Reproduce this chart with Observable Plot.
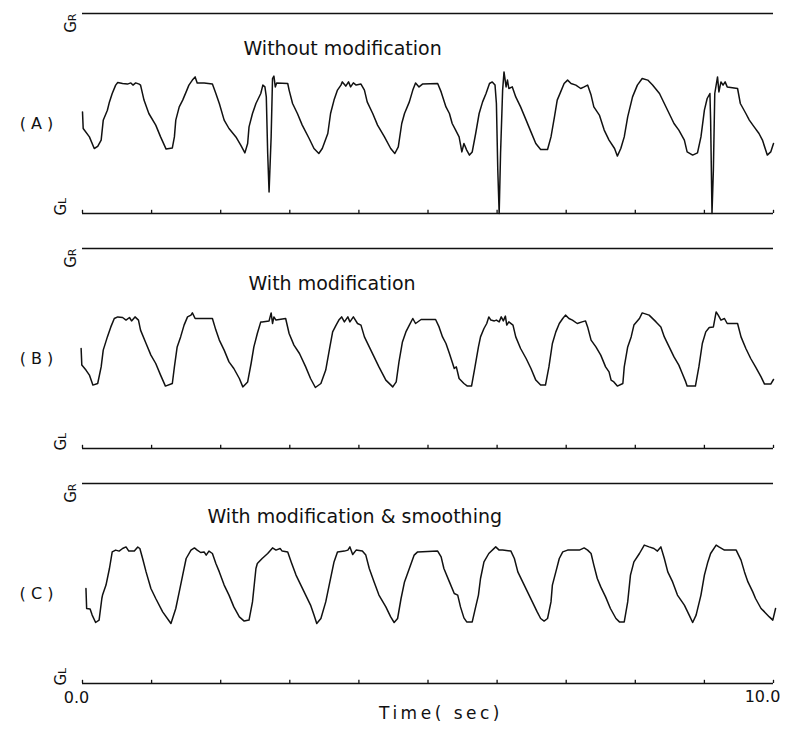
<!DOCTYPE html>
<html><head><meta charset="utf-8">
<script src="https://cdn.jsdelivr.net/npm/d3@7"></script>
<script src="https://cdn.jsdelivr.net/npm/@observablehq/plot@0.6"></script>
<style>
body{margin:0;background:#fff;}
#chart{width:791px;height:729px;}
#chart svg{display:block;}
</style></head><body><div id="chart"></div>
<script>
// ---- data ----
const panelLabels = ["( A )", "( B )", "( C )"];
const panelTitles = ["Without modification", "With modification", "With modification & smoothing"];
const railTop = "GR";
const railBottom = "GL";
const tickSeconds = [0, 1, 2, 3, 4, 5, 6, 7, 8, 9, 10];
const axisEnds = [0, 10];
const axisTitle = "Time( sec)";

// Panel A: without modification (time in sec, level: GL = 0, GR = 100)
const tA = [0.00,0.01,0.10,0.17,0.22,0.27,0.30,0.36,0.39,0.43,0.48,0.51,0.58,0.65,0.70,0.73,0.77,0.82,0.84,0.89,0.96,1.06,1.13,1.21,1.30,1.33,1.35,1.40,1.45,1.50,1.54,1.59,1.63,1.66,1.76,1.88,1.93,1.98,2.05,2.12,2.22,2.29,2.35,2.39,2.41,2.46,2.51,2.58,2.61,2.64,2.66,2.68,2.70,2.73,2.75,2.77,2.79,2.81,2.97,2.99,3.04,3.11,3.18,3.28,3.35,3.42,3.47,3.55,3.59,3.64,3.69,3.74,3.76,3.81,3.85,3.88,3.92,3.96,4.03,4.08,4.12,4.20,4.27,4.37,4.46,4.52,4.57,4.62,4.66,4.73,4.78,4.82,4.87,4.92,
  5.14,5.19,5.26,5.31,5.35,5.40,5.45,5.49,5.52,5.56,5.60,5.64,5.69,5.74,5.79,5.84,5.89,5.93,5.97,5.99,6.01,6.03,6.05,6.08,6.10,6.13,6.15,6.17,6.22,6.27,6.34,6.42,6.49,6.56,6.63,6.73,6.78,6.83,6.87,6.92,6.97,7.02,7.07,7.14,7.21,7.26,7.31,7.36,7.40,7.48,7.55,7.62,7.70,7.74,7.79,7.84,7.89,7.96,8.03,8.10,8.18,8.25,8.35,8.42,8.49,8.56,8.63,8.71,8.75,8.83,8.90,8.95,9.00,9.04,9.08,9.09,9.11,9.13,9.15,9.19,9.21,9.24,9.27,9.30,9.33,9.48,9.52,9.60,9.65,9.72,9.79,9.84,9.91,9.96,10.00];
const vA = [50.8,42.5,38.3,32.5,33.6,36.7,46.6,51.6,55.8,60.0,64.2,65.5,65.0,64.7,65.3,64.2,65.3,64.7,64.2,56.7,50.0,44.2,38.3,32.2,32.8,38.3,46.7,53.3,56.7,60.8,64.2,66.7,68.3,65.3,65.3,64.7,60.0,55.0,46.7,42.5,38.3,34.2,30.3,35.0,43.3,50.0,55.0,60.0,64.2,63.3,58.3,30.0,10.8,38.3,67.5,68.7,63.3,65.3,65.0,61.7,55.0,50.0,44.2,37.5,32.5,30.0,32.5,40.0,50.0,56.7,61.7,64.2,65.8,63.7,65.8,63.3,65.3,64.2,64.7,61.7,55.8,50.0,44.2,38.3,32.5,30.0,33.3,45.0,50.0,55.8,61.7,65.3,63.3,64.7,
  65.0,60.8,53.3,50.0,45.0,41.7,38.3,30.8,35.0,31.7,29.2,30.8,40.0,50.0,55.8,60.0,65.0,65.8,64.2,55.0,21.7,0.0,30.0,61.7,70.8,63.3,66.7,62.5,63.3,58.3,53.3,46.7,40.8,35.0,32.0,32.0,38.3,48.3,56.7,60.8,65.0,66.7,65.0,64.2,62.5,63.3,64.2,59.2,53.3,49.2,41.7,36.7,32.5,28.7,32.5,38.3,48.3,58.3,64.2,67.5,66.7,64.2,60.0,55.0,50.0,45.0,41.7,36.7,30.8,29.2,30.3,38.3,51.7,57.5,60.0,46.7,0.0,21.7,60.0,68.3,60.8,65.8,64.2,65.8,63.3,62.5,55.0,50.0,46.7,43.3,40.0,36.7,29.2,30.8,35.0];

// Panel B: with modification
const tB = [-0.02,-0.01,0.05,0.10,0.15,0.22,0.27,0.30,0.36,0.41,0.46,0.51,0.58,0.63,0.68,0.71,0.76,0.81,0.84,0.92,0.99,1.06,1.13,1.20,1.30,1.33,1.37,1.42,1.47,1.52,1.57,1.59,1.63,1.88,1.93,1.98,2.05,2.12,2.19,2.27,2.32,2.39,2.44,2.48,2.53,2.58,2.60,2.70,2.73,2.75,2.77,2.80,2.94,2.99,3.06,3.14,3.23,3.30,3.37,3.45,3.52,3.58,3.62,3.67,3.71,3.75,3.79,3.84,3.87,3.92,3.98,4.03,4.08,4.15,4.22,4.29,4.39,4.49,4.54,4.58,4.63,4.68,4.73,4.78,4.82,4.90,
  5.11,5.16,5.21,5.26,5.31,5.35,5.38,5.41,5.45,5.52,5.57,5.63,5.68,5.73,5.76,5.81,5.85,5.88,5.91,5.96,5.99,6.03,6.06,6.09,6.12,6.14,6.17,6.23,6.27,6.34,6.42,6.49,6.56,6.63,6.70,6.75,6.80,6.85,6.90,6.95,6.99,7.04,7.09,7.16,7.23,7.28,7.31,7.36,7.43,7.50,7.57,7.62,7.65,7.69,7.74,7.82,7.84,7.89,7.94,7.98,8.06,8.10,8.20,8.30,8.37,8.42,8.49,8.56,8.63,8.68,8.73,8.75,8.87,8.92,8.97,9.02,9.07,9.13,9.17,9.20,9.24,9.29,9.33,9.48,9.53,9.60,9.67,9.74,9.82,9.87,9.96,10.00];
const vB = [50.0,41.7,39.2,36.7,31.7,32.5,40.8,49.2,55.8,60.8,65.0,65.8,65.5,64.2,65.5,63.8,65.8,64.2,59.2,52.5,46.7,42.5,36.7,31.2,32.5,40.8,50.8,55.8,61.7,65.8,66.7,67.8,65.0,65.0,59.2,54.2,49.2,43.3,40.0,35.0,30.8,33.3,42.5,50.8,57.5,63.3,63.3,63.8,67.8,62.5,65.8,64.2,65.0,57.5,51.7,47.5,40.8,35.0,30.5,32.5,39.2,50.8,58.3,61.7,64.2,65.8,63.3,65.8,63.3,65.8,62.5,61.7,55.8,50.8,45.8,40.8,34.2,30.8,33.3,43.3,53.3,58.3,61.7,65.0,62.5,64.5,
  64.5,60.8,55.8,52.5,47.5,43.3,40.0,40.8,35.0,32.5,31.2,31.2,40.8,50.8,55.8,60.0,62.5,65.8,64.2,63.8,64.2,63.3,65.8,63.8,66.2,61.7,63.3,61.7,55.8,50.0,45.0,40.0,34.2,31.7,31.7,40.8,52.5,58.3,62.5,65.0,66.7,65.0,64.2,62.5,63.3,63.8,60.8,54.2,50.8,46.7,40.8,38.3,34.2,33.3,31.2,32.5,40.8,50.8,55.8,61.7,65.0,67.8,66.7,63.3,60.8,55.8,50.8,45.8,41.7,37.5,33.3,31.2,31.2,40.8,52.5,58.3,60.5,60.8,68.3,66.7,64.2,65.0,62.5,62.5,55.8,50.0,45.0,40.8,35.8,32.2,32.2,34.5];

// Panel C: with modification & smoothing
const tC = [0.05,0.06,0.11,0.14,0.19,0.24,0.28,0.29,0.34,0.39,0.43,0.48,0.53,0.58,0.63,0.67,0.75,0.80,0.83,0.87,0.92,0.99,1.06,1.16,1.28,1.35,1.40,1.45,1.50,1.57,1.62,1.66,1.71,1.76,1.79,1.83,1.88,1.93,1.98,2.05,2.12,2.19,2.27,2.34,2.41,2.46,2.51,2.53,2.60,2.68,2.75,2.80,2.86,2.89,2.97,3.02,3.09,3.16,3.23,3.30,3.35,3.39,3.45,3.52,3.57,3.64,3.69,3.79,3.84,3.87,3.91,3.96,4.05,4.10,4.15,4.22,4.29,4.39,4.46,4.51,4.56,4.61,4.66,4.73,4.80,4.85,
  5.14,5.19,5.23,5.31,5.38,5.43,5.47,5.52,5.56,5.64,5.69,5.73,5.76,5.81,5.88,5.98,6.03,6.08,6.20,6.25,6.30,6.37,6.44,6.51,6.58,6.63,6.68,6.73,6.78,6.80,6.85,6.90,6.95,7.02,7.19,7.26,7.31,7.36,7.40,7.45,7.50,7.57,7.64,7.72,7.77,7.84,7.89,7.93,7.98,8.06,8.13,8.20,8.27,8.32,8.37,8.42,8.47,8.54,8.61,8.71,8.78,8.83,8.88,8.95,9.00,9.05,9.09,9.17,9.21,9.29,9.46,9.53,9.58,9.63,9.70,9.74,9.82,9.87,9.94,9.99,10.03];
const vC = [47.5,37.5,37.2,34.2,30.5,31.7,42.5,44.2,49.2,57.5,65.8,66.7,66.2,67.5,68.3,66.2,66.2,68.2,67.5,62.5,55.8,47.5,42.5,35.8,30.0,37.5,45.8,54.2,62.5,66.7,67.8,66.7,65.5,65.8,64.2,66.2,65.0,60.0,55.8,49.2,44.2,38.3,33.3,31.2,31.7,40.8,57.5,60.0,62.5,65.0,67.8,66.7,67.5,66.2,65.8,60.8,54.2,49.2,44.2,39.2,34.2,30.0,32.5,40.8,49.2,60.8,65.8,66.2,66.7,68.3,64.5,66.7,66.2,64.2,57.5,50.8,44.2,38.3,33.3,30.5,32.5,42.5,50.8,57.5,64.2,65.8,
  66.2,63.3,57.5,50.8,45.0,44.2,38.3,32.8,30.8,30.8,38.3,44.2,52.5,60.8,65.0,68.3,66.7,66.7,66.2,62.5,55.8,50.8,45.8,40.8,35.8,32.5,31.2,32.5,40.8,49.2,55.8,62.5,65.8,66.7,66.7,67.8,66.7,65.0,59.2,52.5,48.3,43.3,37.5,32.5,30.8,30.8,40.8,54.2,60.8,65.0,69.2,68.3,67.5,66.2,68.3,62.5,55.8,50.8,44.2,39.2,34.2,30.5,34.2,44.2,54.2,60.8,65.0,69.2,68.3,66.7,66.7,61.7,55.8,50.8,45.8,42.5,37.5,35.8,33.3,31.7,37.5];

// ---- drawing ----
const FONT = "DejaVu Sans";
const traces = [[tA, vA], [tB, vB], [tC, vC]];
const titleDx = [161, 166, 125];
const titleDy = [28, 28, 26];
const root = document.getElementById("chart");

traces.forEach(([t, v], i) => {
  const last = i === 2;
  const data = d3.zip(t, v).map(([time, level]) => ({time, level}));
  const marks = [
    Plot.ruleY([100], {x1: 0, x2: 10, stroke: "#111", strokeWidth: 1.5}),
    Plot.ruleY([0], {x1: 0, x2: 10, stroke: "#111", strokeWidth: 1.5}),
    Plot.ruleX(tickSeconds, {x: d => d, y1: 0, y2: 1.6, stroke: "#111", strokeWidth: 1.3}),
    Plot.line(data, {x: "time", y: "level", stroke: "#111", strokeWidth: 1.5, strokeLinejoin: "round"}),
    Plot.text([panelTitles[i]], {frameAnchor: "top-left", dx: titleDx[i], dy: titleDy[i], textAnchor: "start", fontSize: 19, fontFamily: FONT, fill: "#111"}),
    Plot.text([panelLabels[i]], {frameAnchor: "top-left", dx: -46, dy: 104, textAnchor: "middle", fontSize: 16, fontFamily: FONT, fill: "#111"}),
    Plot.text([railTop], {frameAnchor: "top-left", dx: -17, dy: 0, rotate: -90, textAnchor: "end", fontSize: 15, fontFamily: FONT, fill: "#111"}),
    Plot.text([railBottom], {frameAnchor: "bottom-left", dx: -17, dy: 2, rotate: -90, textAnchor: "start", fontSize: 15, fontFamily: FONT, fill: "#111"})
  ];
  if (last) {
    marks.push(
      Plot.text([axisEnds[0]], {x: d => d, frameAnchor: "bottom", dy: 19, dx: -6, text: d => d.toFixed(1), fontSize: 16, fontFamily: FONT, fill: "#111"}),
      Plot.text([axisEnds[1]], {x: d => d, frameAnchor: "bottom", dy: 18, dx: -11, text: d => d.toFixed(1), fontSize: 16, fontFamily: FONT, fill: "#111"}),
      Plot.text([axisTitle], {frameAnchor: "bottom", dx: 13, dy: 35, fontSize: 17, fontFamily: FONT, fill: "#111"})
    );
  }
  const svg = Plot.plot({
    width: 791,
    height: last ? 259 : 235,
    marginLeft: 82,
    marginRight: 18,
    marginTop: 13,
    marginBottom: last ? 46 : 22,
    x: {domain: [0, 10], axis: null},
    y: {domain: [0, 100], axis: null},
    style: {fontFamily: FONT, background: "#fff", overflow: "visible"},
    marks
  });
  svg.querySelectorAll("text").forEach(el => {
    const s = el.textContent;
    if (s === axisTitle) el.setAttribute("letter-spacing", "3.5");
    if (s === railTop || s === railBottom) {
      // second letter drawn smaller, as in the original plotter lettering
      el.textContent = s[0];
      const ts = document.createElementNS("http://www.w3.org/2000/svg", "tspan");
      ts.setAttribute("font-size", "11");
      ts.textContent = s.slice(1);
      el.appendChild(ts);
    }
  });
  root.appendChild(svg);
});
</script>
</body></html>
